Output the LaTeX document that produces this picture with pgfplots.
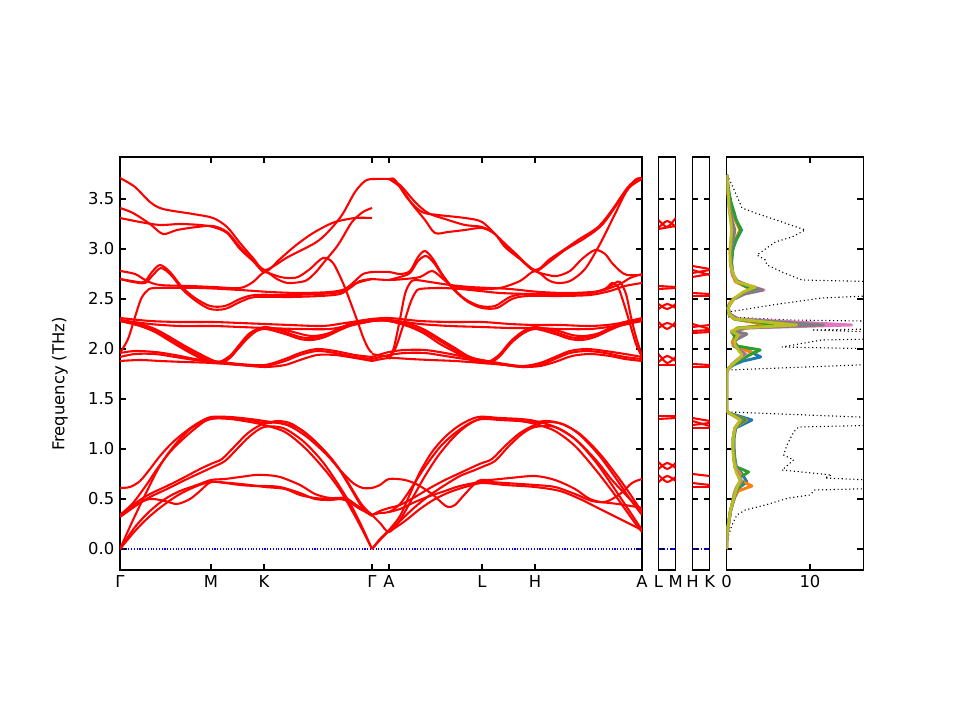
\documentclass[border=0pt]{standalone}
\usepackage{fontspec}
\setmainfont{DejaVu Sans}
\usepackage{pgfplots}
\pgfplotsset{compat=1.18}
\definecolor{c0}{HTML}{1F77B4}
\definecolor{c1}{HTML}{FF7F0E}
\definecolor{c2}{HTML}{2CA02C}
\definecolor{c6}{HTML}{E377C2}
\definecolor{c7}{HTML}{7F7F7F}
\definecolor{c8}{HTML}{BCBD22}
\definecolor{zb}{HTML}{0000FF}
\pgfplotsset{
  band/.style={color=red, line width=1.5bp, smooth, /tikz/tension=0.5},
  zl/.style={color=zb, dash pattern=on 0.8bp off 1.2bp, line width=0.9bp},
  dos/.style={line width=2.1bp, line join=round},
  common/.style={anchor=south west, scale only axis, height=297.36bp,
    ymin=-0.21, ymax=3.92, ytick={0,0.5,1,1.5,2,2.5,3,3.5},
    tick align=inside, major tick length=4.3bp,
    axis line style={line width=1.1bp},
    every tick/.style={black, line width=0.9bp},
    /pgf/number format/assume math mode=true},
}
\begin{document}
\fontsize{11.8bp}{14bp}\selectfont
\begin{tikzpicture}
\useasboundingbox (0,0) rectangle (691.2bp,518.4bp);
% ---------------- main band structure ----------------
\begin{axis}[common, at={(86.4bp,108bp)}, width=375.84bp,
  xmin=120, xmax=642,
  xtick={120,211,264,372,389,482,535,642},
  xticklabels={Γ,M,K,Γ,A,L,H,A},
  yticklabel style={/pgf/number format/.cd, fixed, fixed zerofill, precision=1},
  ylabel={Frequency (THz)},
  ylabel style={at={(axis description cs:-0.115,0.45)}, anchor=center},
]
\addplot[zl] coordinates {(120,0)(642,0)};
% first half: Gamma-M-K-Gamma
\addplot[band] coordinates {(120,3.71)(135,3.62)(150,3.47)(163,3.40)(193,3.35)(213,3.31)(227,3.22)(240,3.06)(253,2.91)(265,2.79)(288,2.92)(315,3.06)(328,3.17)(342,3.34)(355,3.57)(365,3.68)(372,3.70)};
\addplot[band] coordinates {(120,3.41)(133,3.36)(150,3.25)(163,3.15)(177,3.19)(197,3.22)(213,3.23)(227,3.17)(240,3.02)(253,2.89)(265,2.78)(277,2.73)(287,2.71)(298,2.72)(310,2.80)(323,2.91)(333,2.86)(343,2.66)(350,2.48)(357,2.29)(363,2.12)(368,2.01)(372,1.96)};
\addplot[band] coordinates {(120,3.31)(140,3.27)(160,3.24)(180,3.25)(200,3.24)(213,3.22)(227,3.16)(240,3.00)(253,2.88)(265,2.77)(280,2.90)(295,3.03)(310,3.14)(322,3.21)(335,3.27)(355,3.31)(372,3.31)};
\addplot[band] coordinates {(120,2.78)(135,2.75)(147,2.68)(160,2.64)(190,2.63)(213,2.62)(240,2.61)(253,2.67)(265,2.77)(277,2.70)(288,2.66)(305,2.68)(315,2.76)(325,2.88)(338,3.04)(352,3.27)(363,3.37)(372,3.41)};
\addplot[band] coordinates {(120,2.70)(132,2.68)(144,2.67)(152,2.77)(160,2.84)(170,2.77)(182,2.62)(195,2.51)(210,2.43)(225,2.43)(240,2.50)(255,2.54)(290,2.54)(320,2.55)(340,2.57)(350,2.63)(360,2.67)(372,2.70)};
\addplot[band] coordinates {(120,2.70)(133,2.67)(145,2.66)(153,2.74)(161,2.81)(171,2.74)(183,2.59)(196,2.48)(210,2.40)(225,2.40)(240,2.47)(255,2.52)(290,2.52)(320,2.53)(340,2.55)(350,2.61)(360,2.68)(372,2.70)};
\addplot[band] coordinates {(120,1.96)(128,2.10)(135,2.32)(141,2.50)(147,2.58)(155,2.61)(200,2.61)(240,2.59)(270,2.57)(300,2.56)(330,2.57)(345,2.60)(355,2.68)(363,2.75)(372,2.77)};
\addplot[band] coordinates {(120,2.31)(150,2.28)(180,2.27)(213,2.27)(240,2.26)(265,2.25)(290,2.24)(323,2.23)(345,2.26)(372,2.30)};
\addplot[band] coordinates {(120,2.29)(150,2.25)(180,2.23)(213,2.23)(240,2.22)(265,2.21)(300,2.20)(330,2.20)(350,2.24)(372,2.28)};
\addplot[band] coordinates {(120,2.29)(140,2.25)(155,2.20)(168,2.13)(185,2.03)(200,1.95)(212,1.89)(220,1.87)(230,1.93)(240,2.05)(250,2.16)(265,2.22)(285,2.17)(300,2.12)(312,2.11)(325,2.14)(340,2.21)(355,2.27)(372,2.30)};
\addplot[band] coordinates {(120,2.28)(140,2.24)(155,2.18)(170,2.10)(185,2.01)(200,1.93)(212,1.87)(222,1.86)(232,1.93)(242,2.06)(252,2.16)(265,2.20)(285,2.15)(300,2.10)(312,2.09)(325,2.12)(340,2.19)(355,2.25)(372,2.29)};
\addplot[band] coordinates {(120,2.28)(140,2.23)(155,2.17)(170,2.08)(185,1.99)(200,1.91)(212,1.86)(222,1.88)(235,1.97)(245,2.08)(255,2.17)(265,2.21)(285,2.19)(305,2.14)(315,2.13)(330,2.16)(345,2.22)(372,2.28)};
\addplot[band] coordinates {(120,1.96)(135,1.98)(155,1.97)(175,1.94)(195,1.90)(213,1.88)(240,1.85)(265,1.84)(285,1.90)(300,1.96)(317,2.00)(335,1.98)(355,1.94)(372,1.92)};
\addplot[band] coordinates {(120,1.92)(135,1.95)(155,1.95)(175,1.92)(195,1.89)(213,1.87)(240,1.84)(265,1.83)(285,1.88)(300,1.94)(317,1.98)(335,1.96)(355,1.92)(372,1.90)};
\addplot[band] coordinates {(120,1.88)(140,1.89)(160,1.88)(185,1.87)(213,1.86)(240,1.84)(265,1.82)(285,1.84)(300,1.89)(317,1.94)(335,1.94)(355,1.91)(372,1.88)};
\addplot[band] coordinates {(120,0.61)(130,0.62)(140,0.68)(150,0.80)(160,0.93)(172,1.06)(185,1.17)(198,1.26)(211,1.32)(230,1.32)(250,1.30)(264,1.28)(287,1.24)(307,1.12)(327,0.94)(340,0.79)(353,0.66)(363,0.61)(372,0.61)};
\addplot[band] coordinates {(120,0.34)(133,0.46)(147,0.65)(157,0.80)(170,0.97)(183,1.10)(197,1.22)(211,1.31)(230,1.31)(250,1.29)(264,1.26)(278,1.28)(292,1.25)(310,1.12)(325,0.97)(340,0.79)(352,0.60)(362,0.44)(372,0.34)};
\addplot[band] coordinates {(120,0.0)(133,0.29)(147,0.58)(157,0.78)(167,0.94)(180,1.10)(193,1.22)(211,1.30)(230,1.30)(250,1.27)(264,1.24)(285,1.17)(305,1.01)(325,0.79)(340,0.59)(355,0.33)(365,0.14)(372,0.0)};
\addplot[band] coordinates {(120,0.33)(137,0.47)(150,0.55)(167,0.63)(183,0.71)(200,0.80)(213,0.86)(222,0.90)(235,1.03)(248,1.16)(263,1.25)(280,1.26)(300,1.20)(318,1.05)(335,0.86)(350,0.62)(362,0.42)(372,0.34)};
\addplot[band] coordinates {(120,0.32)(137,0.44)(150,0.52)(167,0.60)(183,0.68)(200,0.76)(213,0.82)(225,0.88)(237,1.00)(250,1.13)(264,1.22)(283,1.21)(303,1.08)(322,0.88)(338,0.65)(352,0.42)(363,0.20)(372,0.0)};
\addplot[band] coordinates {(120,0.0)(135,0.22)(150,0.38)(165,0.50)(180,0.58)(197,0.64)(211,0.69)(225,0.70)(240,0.72)(255,0.74)(265,0.74)(280,0.72)(300,0.64)(315,0.55)(330,0.51)(345,0.51)(355,0.45)(365,0.38)(372,0.34)};
\addplot[band] coordinates {(120,0.34)(135,0.44)(150,0.50)(165,0.48)(177,0.45)(190,0.50)(200,0.58)(211,0.67)(225,0.66)(240,0.64)(255,0.63)(265,0.63)(280,0.62)(300,0.56)(315,0.50)(330,0.49)(345,0.50)(358,0.42)(372,0.33)};
\addplot[band] coordinates {(120,0.0)(135,0.18)(150,0.33)(165,0.45)(180,0.55)(197,0.63)(211,0.67)(230,0.66)(250,0.64)(265,0.62)(285,0.60)(300,0.54)(315,0.51)(330,0.50)(345,0.49)(360,0.40)(372,0.34)};
% second half: Gamma-A-L-H-A
\addplot[band] coordinates {(372,3.70)(389,3.70)(395,3.69)(408,3.50)(422,3.37)(438,3.34)(465,3.31)(482,3.27)(498,3.12)(515,2.96)(535,2.79)(550,2.90)(565,3.00)(578,3.09)(598,3.22)(612,3.39)(628,3.62)(638,3.70)(642,3.71)};
\addplot[band] coordinates {(389,3.70)(400,3.62)(412,3.45)(425,3.29)(435,3.16)(448,3.17)(465,3.19)(482,3.21)(495,3.15)(505,3.02)(520,2.90)(535,2.78)(548,2.86)(565,2.99)(585,3.11)(602,3.24)(618,3.46)(635,3.69)(642,3.70)};
\addplot[band] coordinates {(389,3.70)(400,3.64)(415,3.47)(428,3.36)(445,3.30)(465,3.24)(482,3.22)(495,3.15)(505,3.03)(520,2.90)(535,2.78)(548,2.74)(557,2.73)(570,2.78)(582,2.90)(595,2.99)(605,2.95)(612,2.86)(620,2.78)(627,2.74)(642,2.74)};
\addplot[band] coordinates {(372,2.70)(389,2.69)(405,2.70)(420,2.72)(432,2.78)(442,2.71)(452,2.63)(465,2.61)(480,2.60)(500,2.61)(520,2.68)(535,2.78)(548,2.69)(557,2.66)(570,2.68)(585,2.80)(600,3.05)(615,3.35)(628,3.60)(642,3.70)};
\addplot[band] coordinates {(372,2.77)(389,2.77)(400,2.75)(410,2.78)(418,2.92)(425,2.98)(433,2.90)(442,2.75)(452,2.62)(465,2.50)(480,2.43)(495,2.43)(510,2.52)(525,2.55)(560,2.55)(590,2.56)(605,2.60)(615,2.66)(620,2.67)(626,2.55)(631,2.32)(636,2.12)(642,1.93)};
\addplot[band] coordinates {(389,2.69)(400,2.72)(410,2.76)(418,2.88)(426,2.93)(434,2.86)(444,2.71)(455,2.58)(468,2.47)(482,2.41)(497,2.41)(512,2.50)(527,2.53)(560,2.53)(590,2.54)(610,2.58)(625,2.63)(642,2.66)};
\addplot[band] coordinates {(372,1.95)(389,1.93)(394,2.02)(400,2.30)(405,2.55)(410,2.66)(415,2.69)(430,2.67)(450,2.64)(470,2.62)(490,2.61)(510,2.60)(540,2.57)(570,2.56)(600,2.58)(620,2.65)(630,2.71)(642,2.75)};
\addplot[band] coordinates {(389,1.90)(396,2.02)(403,2.23)(410,2.45)(415,2.56)(420,2.60)(440,2.61)(460,2.60)(480,2.58)(500,2.56)(530,2.55)(560,2.55)(590,2.56)(605,2.60)(612,2.66)(618,2.62)(624,2.45)(630,2.25)(636,2.05)(642,1.92)};
\addplot[band] coordinates {(372,2.30)(389,2.31)(420,2.28)(450,2.27)(482,2.27)(510,2.25)(535,2.24)(560,2.24)(590,2.23)(615,2.25)(642,2.31)};
\addplot[band] coordinates {(372,2.28)(389,2.29)(420,2.25)(450,2.23)(482,2.22)(510,2.21)(535,2.21)(560,2.20)(590,2.20)(615,2.23)(642,2.29)};
\addplot[band] coordinates {(372,2.30)(389,2.29)(410,2.25)(425,2.19)(440,2.10)(455,2.01)(468,1.93)(480,1.89)(490,1.88)(500,1.95)(510,2.07)(522,2.17)(535,2.22)(555,2.17)(570,2.12)(582,2.11)(595,2.14)(610,2.21)(625,2.27)(642,2.30)};
\addplot[band] coordinates {(372,2.29)(389,2.28)(410,2.23)(425,2.17)(440,2.08)(455,1.99)(468,1.91)(480,1.87)(490,1.86)(500,1.93)(510,2.05)(522,2.15)(535,2.20)(555,2.15)(570,2.10)(582,2.09)(595,2.12)(610,2.19)(625,2.25)(642,2.29)};
\addplot[band] coordinates {(372,2.28)(389,2.28)(410,2.22)(425,2.15)(440,2.05)(455,1.97)(468,1.90)(482,1.86)(492,1.88)(503,1.97)(513,2.08)(525,2.17)(535,2.21)(555,2.19)(572,2.14)(585,2.13)(600,2.16)(615,2.22)(642,2.28)};
\addplot[band] coordinates {(372,1.92)(389,1.97)(405,1.99)(425,1.99)(445,1.96)(465,1.92)(482,1.89)(505,1.85)(523,1.83)(540,1.86)(555,1.92)(570,1.98)(587,2.00)(605,1.98)(625,1.95)(642,1.92)};
\addplot[band] coordinates {(372,1.90)(389,1.94)(405,1.96)(425,1.96)(445,1.93)(465,1.90)(482,1.88)(505,1.84)(523,1.82)(540,1.84)(555,1.90)(570,1.96)(587,1.98)(605,1.96)(625,1.92)(642,1.90)};
\addplot[band] coordinates {(372,1.88)(389,1.91)(410,1.90)(430,1.89)(455,1.88)(482,1.86)(505,1.84)(523,1.82)(540,1.83)(555,1.87)(572,1.93)(590,1.95)(610,1.93)(625,1.90)(642,1.88)};
\addplot[band] coordinates {(372,0.0)(380,0.10)(389,0.19)(400,0.33)(410,0.55)(420,0.77)(432,0.97)(445,1.12)(460,1.24)(478,1.32)(500,1.31)(520,1.30)(535,1.28)(555,1.22)(575,1.10)(595,0.90)(612,0.69)(625,0.55)(635,0.45)(642,0.39)};
\addplot[band] coordinates {(372,0.34)(380,0.26)(389,0.17)(400,0.29)(412,0.50)(425,0.73)(438,0.93)(452,1.10)(465,1.22)(480,1.30)(500,1.30)(520,1.28)(535,1.25)(555,1.18)(575,1.03)(595,0.80)(612,0.58)(625,0.40)(635,0.26)(642,0.17)};
\addplot[band] coordinates {(372,0.34)(380,0.36)(389,0.37)(400,0.45)(412,0.62)(425,0.82)(440,1.02)(455,1.16)(470,1.26)(482,1.30)(500,1.29)(520,1.28)(535,1.27)(548,1.28)(562,1.25)(580,1.15)(600,0.95)(618,0.72)(630,0.55)(642,0.37)};
\addplot[band] coordinates {(372,0.34)(380,0.38)(389,0.41)(400,0.44)(415,0.52)(430,0.61)(445,0.69)(460,0.76)(475,0.83)(482,0.86)(492,0.90)(505,1.03)(520,1.16)(535,1.24)(550,1.27)(565,1.24)(580,1.14)(598,0.95)(615,0.72)(630,0.50)(642,0.34)};
\addplot[band] coordinates {(372,0.0)(380,0.09)(389,0.18)(400,0.28)(415,0.42)(430,0.54)(445,0.64)(460,0.73)(475,0.79)(482,0.82)(495,0.88)(508,1.02)(522,1.15)(535,1.22)(555,1.22)(575,1.10)(595,0.88)(612,0.64)(628,0.40)(642,0.19)};
\addplot[band] coordinates {(372,0.61)(380,0.64)(389,0.70)(405,0.69)(418,0.64)(432,0.55)(442,0.46)(448,0.42)(455,0.44)(465,0.55)(478,0.68)(490,0.69)(510,0.71)(535,0.73)(555,0.69)(575,0.60)(590,0.50)(605,0.47)(620,0.55)(632,0.66)(642,0.70)};
\addplot[band] coordinates {(389,0.37)(400,0.40)(415,0.47)(430,0.53)(445,0.58)(460,0.63)(482,0.67)(505,0.66)(520,0.65)(535,0.64)(555,0.62)(575,0.55)(592,0.48)(610,0.46)(625,0.44)(642,0.41)};
\addplot[band] coordinates {(389,0.17)(405,0.28)(420,0.40)(435,0.50)(450,0.57)(465,0.62)(482,0.66)(505,0.64)(535,0.62)(560,0.58)(580,0.50)(600,0.40)(620,0.30)(642,0.19)};
\end{axis}
% ---------------- L-M panel ----------------
\begin{axis}[common, at={(474.12bp,108bp)}, width=12.38bp,
  xmin=0, xmax=1, xtick={0,1}, xticklabels={L,M}, yticklabels={}]
\addplot[zl] coordinates {(0,0)(1,0)};
\addplot[band] coordinates {(0,3.29)(0.5,3.22)(1,3.31)};
\addplot[band] coordinates {(0,3.21)(0.5,3.28)(1,3.22)};
\addplot[band] coordinates {(0,3.20)(1,3.23)};
\addplot[band] coordinates {(0,2.63)(1,2.62)};
\addplot[band] coordinates {(0,2.60)(1,2.61)};
\addplot[band] coordinates {(0,2.45)(0.5,2.40)(1,2.45)};
\addplot[band] coordinates {(0,2.40)(0.5,2.45)(1,2.41)};
\addplot[band] coordinates {(0,2.27)(0.5,2.20)(1,2.27)};
\addplot[band] coordinates {(0,2.21)(0.5,2.26)(1,2.22)};
\addplot[band] coordinates {(0,1.95)(0.5,1.86)(1,1.92)};
\addplot[band] coordinates {(0,1.87)(0.5,1.93)(1,1.88)};
\addplot[band] coordinates {(0,1.84)(1,1.84)};
\addplot[band] coordinates {(0,1.33)(1,1.33)};
\addplot[band] coordinates {(0,1.30)(1,1.31)};
\addplot[band] coordinates {(0,0.87)(0.5,0.80)(1,0.86)};
\addplot[band] coordinates {(0,0.80)(0.5,0.86)(1,0.81)};
\addplot[band] coordinates {(0,0.74)(0.5,0.67)(1,0.72)};
\addplot[band] coordinates {(0,0.67)(0.5,0.73)(1,0.68)};
\end{axis}
% ---------------- H-K panel ----------------
\begin{axis}[common, at={(498.6bp,108bp)}, width=12.38bp,
  xmin=0, xmax=1, xtick={0,1}, xticklabels={H,K}, yticklabels={}]
\addplot[zl] coordinates {(0,0)(1,0)};
\addplot[band] coordinates {(0,2.83)(1,2.80)};
\addplot[band] coordinates {(0,2.79)(1,2.74)};
\addplot[band] coordinates {(0,2.76)(1,2.79)};
\addplot[band] coordinates {(0,2.72)(1,2.75)};
\addplot[band] coordinates {(0,2.56)(1,2.55)};
\addplot[band] coordinates {(0,2.53)(1,2.53)};
\addplot[band] coordinates {(0,2.25)(1,2.20)};
\addplot[band] coordinates {(0,2.22)(1,2.24)};
\addplot[band] coordinates {(0,2.18)(1,2.19)};
\addplot[band] coordinates {(0,2.16)(1,2.17)};
\addplot[band] coordinates {(0,1.85)(1,1.84)};
\addplot[band] coordinates {(0,1.82)(1,1.82)};
\addplot[band] coordinates {(0,1.31)(1,1.28)};
\addplot[band] coordinates {(0,1.28)(1,1.23)};
\addplot[band] coordinates {(0,1.24)(1,1.26)};
\addplot[band] coordinates {(0,1.21)(1,1.21)};
\addplot[band] coordinates {(0,0.75)(1,0.73)};
\addplot[band] coordinates {(0,0.66)(1,0.64)};
\addplot[band] coordinates {(0,0.62)(1,0.62)};
\end{axis}
% ---------------- DOS panel ----------------
\begin{axis}[common, at={(523.08bp,108bp)}, width=98.5bp,
  xmin=0, xmax=16.4, xtick={0,10}, yticklabels={}]
\addplot[black, dotted, line width=0.8bp] coordinates {(0.06,3.74)(0.66,3.64)(1.86,3.41)(3.45,3.36)(6.65,3.27)(9.44,3.19)(7.84,3.12)(5.85,3.07)(3.65,2.94)(4.65,2.89)(4.85,2.84)(6.65,2.77)(9.04,2.69)(25,2.66)(25,2.56)(11.4,2.51)(5.45,2.44)(0.26,2.37)(0.3,2.32)(7.45,2.29)(25,2.27)(25,2.21)(10.2,2.19)(25,2.15)(25,2.11)(11.4,2.09)(6.65,2.02)(25,1.99)(25,1.87)(0.26,1.79)(0.06,1.77)(0.02,1.38)(0.26,1.37)(3.45,1.36)(25,1.29)(25,1.25)(8.65,1.22)(8.05,1.17)(7.25,1.04)(6.85,0.94)(8.05,0.89)(6.65,0.79)(12.6,0.74)(11.8,0.71)(25,0.66)(25,0.62)(10.6,0.59)(10.0,0.54)(7.45,0.51)(4.65,0.44)(2.25,0.39)(1.25,0.34)(0.66,0.24)(0.26,0.14)(0.06,0.04)};
\addplot[dos, c0] coordinates {(0.05,3.74)(0.2,3.60)(0.4,3.45)(0.9,3.36)(1.2,3.28)(1.8,3.19)(1.1,3.08)(0.7,2.98)(0.6,2.85)(0.8,2.74)(1.2,2.67)(2.5,2.62)(3.6,2.59)(2.0,2.55)(0.9,2.50)(0.4,2.45)(0.2,2.41)(0.3,2.35)(1.0,2.30)(5.5,2.24)(1.5,2.21)(0.6,2.17)(1.1,2.13)(0.8,2.07)(0.9,2.03)(2.5,1.99)(4.1,1.92)(2.0,1.88)(0.8,1.84)(0.2,1.80)(0.02,1.77)(0.02,1.38)(0.3,1.36)(3.05,1.29)(1.1,1.21)(0.9,1.11)(0.9,1.00)(1.0,0.90)(1.1,0.82)(1.8,0.76)(2.45,0.67)(1.6,0.62)(1.1,0.55)(0.8,0.47)(0.5,0.38)(0.3,0.27)(0.12,0.17)(0.03,0.08)(0,0)};
\addplot[dos, c1] coordinates {(0.05,3.74)(0.2,3.60)(0.3,3.45)(0.8,3.36)(1.1,3.28)(1.6,3.19)(1.0,3.08)(0.6,2.98)(0.5,2.85)(0.7,2.74)(1.1,2.67)(2.4,2.62)(3.5,2.59)(1.9,2.55)(0.8,2.50)(0.3,2.45)(0.2,2.41)(0.3,2.35)(0.9,2.30)(5.0,2.24)(1.4,2.21)(0.6,2.17)(1.0,2.13)(0.7,2.07)(0.8,2.03)(2.2,1.99)(3.2,1.96)(1.5,1.90)(0.6,1.84)(0.2,1.80)(0.02,1.77)(0.02,1.38)(0.3,1.36)(2.4,1.29)(1.0,1.21)(0.8,1.11)(0.8,1.00)(0.9,0.90)(1.0,0.82)(1.8,0.74)(1.6,0.69)(3.05,0.63)(1.4,0.58)(1.0,0.52)(0.7,0.45)(0.45,0.37)(0.28,0.27)(0.1,0.17)(0.03,0.08)(0,0)};
\addplot[dos, c2] coordinates {(0.05,3.74)(0.2,3.62)(0.5,3.48)(0.9,3.37)(1.1,3.30)(1.75,3.19)(1.2,3.10)(0.8,3.02)(0.6,2.88)(0.7,2.76)(1.2,2.68)(2.4,2.62)(3.4,2.59)(1.9,2.55)(0.9,2.50)(0.4,2.45)(0.2,2.41)(0.3,2.35)(1.0,2.30)(6.5,2.24)(1.3,2.21)(0.7,2.17)(1.0,2.12)(1.0,2.07)(1.3,2.03)(4.05,1.99)(3.0,1.95)(1.7,1.89)(0.7,1.84)(0.2,1.80)(0.02,1.77)(0.02,1.38)(0.3,1.36)(2.25,1.29)(1.1,1.22)(0.9,1.12)(0.9,1.00)(1.0,0.90)(1.2,0.82)(2.65,0.77)(1.5,0.71)(2.0,0.66)(1.3,0.60)(1.0,0.53)(0.7,0.45)(0.45,0.37)(0.27,0.27)(0.1,0.17)(0.03,0.08)(0,0)};
\addplot[dos, c6] coordinates {(0.05,3.74)(0.15,3.60)(0.3,3.45)(0.5,3.36)(0.6,3.28)(0.9,3.19)(0.7,3.08)(0.5,2.98)(0.5,2.85)(0.7,2.74)(1.3,2.68)(2.8,2.63)(4.5,2.59)(2.2,2.55)(0.9,2.50)(0.4,2.45)(0.2,2.41)(0.4,2.35)(1.5,2.30)(15.0,2.24)(2.5,2.21)(0.8,2.17)(1.8,2.14)(1.0,2.08)(0.9,2.03)(1.6,1.99)(2.3,1.95)(1.5,1.90)(0.7,1.85)(0.2,1.80)(0.02,1.77)(0.02,1.38)(0.3,1.36)(1.7,1.29)(1.0,1.21)(0.8,1.11)(0.8,1.00)(0.9,0.90)(1.1,0.82)(1.4,0.76)(1.8,0.68)(1.3,0.62)(1.0,0.55)(0.7,0.46)(0.45,0.37)(0.27,0.27)(0.1,0.17)(0.03,0.08)(0,0)};
\addplot[dos, c7] coordinates {(0.05,3.74)(0.15,3.60)(0.3,3.45)(0.6,3.36)(0.7,3.28)(1.0,3.19)(0.8,3.08)(0.5,2.98)(0.5,2.85)(0.8,2.74)(1.3,2.68)(2.7,2.63)(4.3,2.59)(2.1,2.55)(0.9,2.50)(0.4,2.45)(0.2,2.41)(0.4,2.35)(1.3,2.30)(11.6,2.24)(2.2,2.21)(0.8,2.18)(2.45,2.15)(1.1,2.09)(0.9,2.03)(1.6,1.99)(2.1,1.95)(1.4,1.90)(0.7,1.85)(0.2,1.80)(0.02,1.77)(0.02,1.38)(0.3,1.36)(1.9,1.29)(1.0,1.21)(0.8,1.11)(0.8,1.00)(0.9,0.90)(1.0,0.82)(1.3,0.76)(1.7,0.68)(1.2,0.62)(0.9,0.55)(0.7,0.46)(0.45,0.37)(0.27,0.27)(0.1,0.17)(0.03,0.08)(0,0)};
\addplot[dos, c8] coordinates {(0.05,3.74)(0.2,3.55)(0.3,3.40)(0.5,3.28)(0.6,3.19)(0.5,3.08)(0.4,2.98)(0.45,2.85)(0.8,2.75)(1.25,2.67)(3.45,2.62)(2.0,2.57)(1.0,2.51)(0.5,2.46)(0.2,2.41)(0.3,2.35)(1.0,2.30)(8.4,2.24)(1.5,2.21)(0.6,2.18)(1.4,2.14)(1.0,2.09)(1.0,2.04)(1.4,1.99)(1.9,1.94)(1.3,1.89)(0.6,1.84)(0.2,1.80)(0.02,1.77)(0.02,1.38)(0.3,1.36)(1.65,1.29)(1.0,1.21)(0.8,1.11)(0.75,1.00)(0.85,0.90)(1.0,0.82)(1.2,0.76)(1.65,0.69)(1.25,0.62)(1.0,0.55)(0.7,0.46)(0.45,0.37)(0.27,0.27)(0.1,0.17)(0.03,0.08)(0,0)};
\end{axis}
\end{tikzpicture}
\end{document}
